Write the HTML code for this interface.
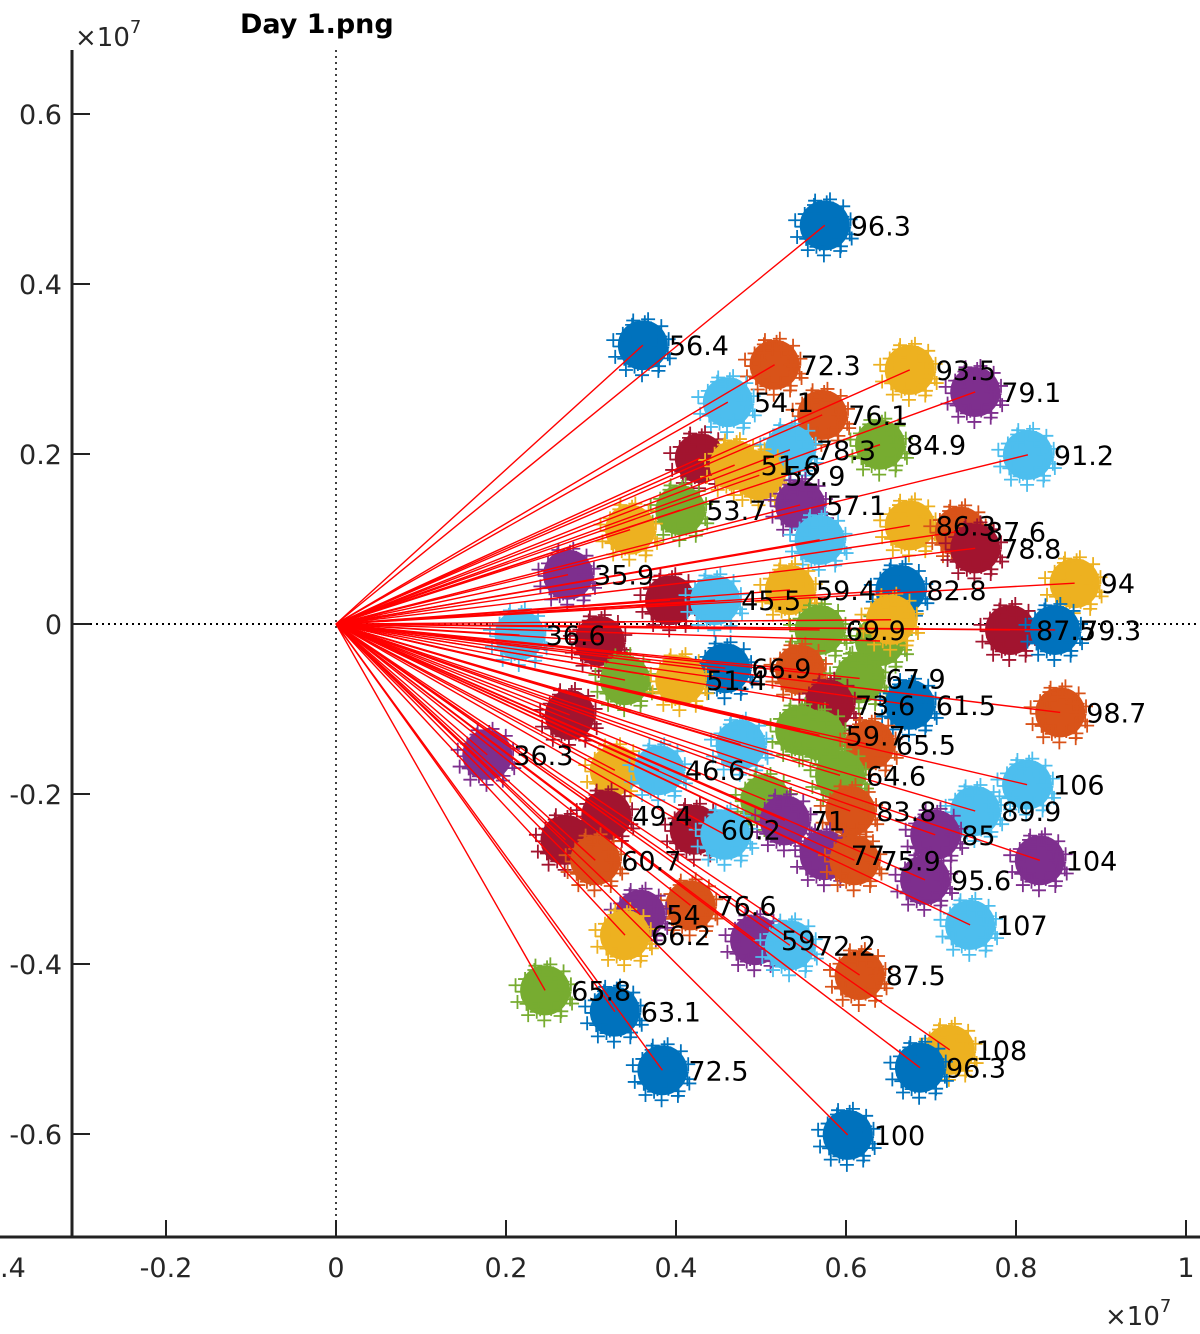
<!DOCTYPE html>
<html><head><meta charset="utf-8"><style>
body{margin:0;background:#fff;}
svg{display:block;font-family:"DejaVu Sans","Liberation Sans",sans-serif;}
</style></head><body>
<svg id="chart" width="1200" height="1334" viewBox="0 0 1200 1334" xmlns="http://www.w3.org/2000/svg">
<g id="axes"></g>
<g id="blobs"></g>
<g id="lines"></g>
<g id="labels"></g>
</svg>
<script>
const xs=[0.575,0.361,0.516,0.675,0.752,0.461,0.572,0.640,0.814,0.428,0.469,0.534,0.498,0.546,0.405,0.346,0.569,0.675,0.734,0.752,0.869,0.273,0.393,0.446,0.534,0.664,0.640,0.653,0.793,0.846,0.216,0.310,0.569,0.458,0.546,0.340,0.405,0.616,0.675,0.852,0.580,0.546,0.476,0.275,0.569,0.628,0.178,0.328,0.380,0.593,0.813,0.752,0.318,0.505,0.422,0.528,0.458,0.605,0.705,0.828,0.270,0.305,0.575,0.610,0.693,0.746,0.417,0.358,0.340,0.493,0.534,0.616,0.246,0.328,0.722,0.687,0.384,0.602];
const ys=[0.469,0.328,0.305,0.299,0.273,0.261,0.246,0.211,0.199,0.195,0.187,0.205,0.175,0.140,0.134,0.111,0.099,0.116,0.109,0.089,0.048,0.058,0.028,0.028,0.040,0.040,-0.020,0.005,-0.007,-0.007,-0.013,-0.020,-0.007,-0.052,-0.054,-0.066,-0.066,-0.064,-0.095,-0.104,-0.095,-0.125,-0.142,-0.107,-0.131,-0.142,-0.154,-0.172,-0.172,-0.178,-0.189,-0.220,-0.225,-0.207,-0.242,-0.231,-0.248,-0.220,-0.248,-0.278,-0.254,-0.278,-0.272,-0.278,-0.301,-0.354,-0.331,-0.342,-0.366,-0.372,-0.378,-0.413,-0.431,-0.456,-0.501,-0.522,-0.525,-0.601];
const labels=["96.3","56.4","72.3","93.5","79.1","54.1","76.1","84.9","91.2","","51.6","78.3","52.9","57.1","53.7","","","86.3","87.6","78.8","94","35.9","","45.5","59.4","82.8","","","87.5","79.3","36.6","","69.9","66.9","","","51.4","67.9","61.5","98.7","73.6","","","","59.7","65.5","36.3","","46.6","64.6","106","89.9","49.4","","60.2","71","","83.8","85","104","","60.7","77","75.9","95.6","107","76.6","54","66.2","59","72.2","87.5","65.8","63.1","108","96.3","72.5","100"];
const colorIdx=[0,0,1,2,3,5,1,4,5,6,2,5,2,3,4,2,5,2,1,6,2,3,6,5,2,0,4,2,6,0,5,6,4,0,1,4,2,4,0,1,6,4,5,6,4,1,3,2,5,4,5,5,6,4,6,3,5,1,3,3,6,1,3,1,3,5,1,3,2,3,5,1,4,0,2,0,0,0];
const yTicks=[0.6,0.4,0.2,0,-0.2,-0.4,-0.6];
const xTicks=[-0.4,-0.2,0,0.2,0.4,0.6,0.8,1];
const xTickText=[".4","-0.2","0","0.2","0.4","0.6","0.8","1"];
const yTickText=["0.6","0.4","0.2","0","-0.2","-0.4","-0.6"];

const palette=["#0072BD","#D95319","#EDB120","#7E2F8E","#77AC30","#4DBEEE","#A2142F"];
const NS="http://www.w3.org/2000/svg";
const X=v=>336+v*850, Y=v=>624-v*850;
function mk(tag,attrs,parent){const e=document.createElementNS(NS,tag);for(const k in attrs)e.setAttribute(k,attrs[k]);parent.appendChild(e);return e;}
const ax=document.getElementById('axes');
let e=mk('line',{x1:X(0),y1:50,x2:X(0),y2:1236,stroke:'#000','stroke-width':1.5,'stroke-dasharray':'2,4'},ax);


e=mk('line',{x1:72,y1:Y(0),x2:1200,y2:Y(0),stroke:'#000','stroke-width':2,'stroke-dasharray':'2,4'},ax);


e=mk('line',{x1:72,y1:50,x2:72,y2:1238,stroke:'#222','stroke-width':3},ax);


e=mk('line',{x1:0,y1:1237,x2:1200,y2:1237,stroke:'#222','stroke-width':3},ax);


yTicks.forEach((v,i)=>{
  mk('line',{x1:72,y1:Y(v),x2:90,y2:Y(v),stroke:'#222','stroke-width':2},ax);
  const t=mk('text',{x:62,y:Y(v)+10,'text-anchor':'end','font-size':27,fill:'#262626'},ax);
  t.textContent=yTickText[i];
  
  
});
xTicks.forEach((v,i)=>{
  mk('line',{x1:X(v),y1:1237,x2:X(v),y2:1220,stroke:'#222','stroke-width':2},ax);
  const t=mk('text',{x:v===-0.4?0:X(v),y:1277,'text-anchor':v===-0.4?'start':'middle','font-size':27,fill:'#262626'},ax);
  t.textContent=xTickText[i];
  
  
});
let t=mk('text',{x:240,y:33,'font-size':27,'font-weight':'bold',fill:'#000'},ax);
t.textContent='Day 1.png';


t=mk('text',{x:75,y:46,'font-size':26,fill:'#262626'},ax);
t.innerHTML='×10<tspan dy="-13" font-size="18">7</tspan>';


t=mk('text',{x:1105,y:1325,'font-size':26,fill:'#262626'},ax);
t.innerHTML='×10<tspan dy="-13" font-size="18">7</tspan>';



const bg=document.getElementById('blobs'),lg=document.getElementById('lines'),tg=document.getElementById('labels');
xs.forEach((xv,i)=>{
  const cx=X(xv),cy=Y(ys[i]),col=palette[colorIdx[i]];
  const g=mk('g',{},bg);
  
  
  mk('circle',{cx:cx,cy:cy,r:25,fill:col},g);
  let d='';
  for(let k=0;k<30;k++){const a=k*2.399,r=16+(k%5)*3.5;const px=cx+r*Math.cos(a),py=cy+r*Math.sin(a);d+=`M${px-7},${py}h14M${px},${py-7}v14`;}
  mk('path',{d:d,stroke:col,'stroke-width':1.8,fill:'none'},g);
  const l=mk('line',{x1:X(0),y1:Y(0),x2:cx,y2:cy,stroke:'#FF0000','stroke-width':1.4},lg);
  
  
  if(labels[i]){
    const tx=mk('text',{x:cx+26,y:cy+10,'font-size':27,fill:'#000'},tg);
    tx.textContent=labels[i];
    
    
  }
});
</script>
</body></html>
